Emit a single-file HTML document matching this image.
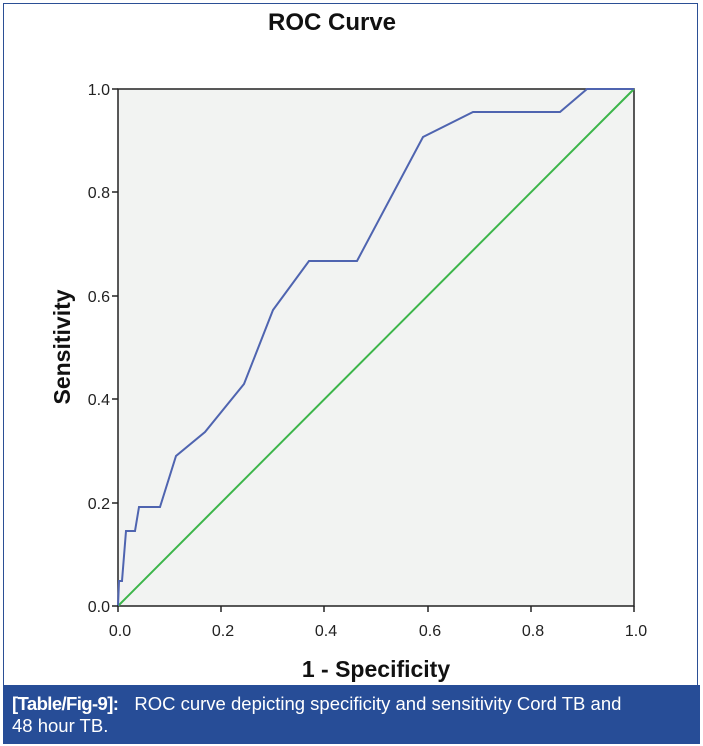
<!DOCTYPE html>
<html><head><style>
body{margin:0;width:703px;height:746px;background:#fff;position:relative;overflow:hidden;font-family:"Liberation Sans",Arial,sans-serif}
.frame{position:absolute;left:3px;top:3px;width:695px;height:740px;border:1px solid #2b4f95;box-sizing:border-box}
.cap{position:absolute;left:3px;top:685px;width:697px;height:59px;background:#274d97;color:#fff;font-size:18.5px;line-height:22px;padding:8px 0 0 9px;box-sizing:border-box}
.cap b{letter-spacing:-0.6px;margin-right:16px}
</style></head><body>
<div class="frame"></div>
<svg width="703" height="746" style="position:absolute;left:0;top:0">
<text x="332" y="30" font-size="24" font-weight="bold" text-anchor="middle" fill="#111">ROC Curve</text>
<rect x="118" y="89" width="516" height="517" fill="#f2f3f2" stroke="#222" stroke-width="1.5"/>
<line x1="118" y1="606" x2="634" y2="89" stroke="#3cb54a" stroke-width="2"/>
<polyline fill="none" stroke="#4f64b0" stroke-width="2" points="118,606 119,581 122,581 126,531 135,531 139,507 160,507 176,456 205,432 244,384 273,310 309,261 357,261 423,137 473,112 560,112 587,89 634,89"/>
<g stroke="#222" stroke-width="1.5">
<line x1="112" y1="89" x2="118" y2="89"/><line x1="112" y1="192" x2="118" y2="192"/><line x1="112" y1="296" x2="118" y2="296"/><line x1="112" y1="399" x2="118" y2="399"/><line x1="112" y1="503" x2="118" y2="503"/><line x1="112" y1="606" x2="118" y2="606"/>
<line x1="118" y1="606" x2="118" y2="612"/><line x1="221" y1="606" x2="221" y2="612"/><line x1="324" y1="606" x2="324" y2="612"/><line x1="428" y1="606" x2="428" y2="612"/><line x1="531" y1="606" x2="531" y2="612"/><line x1="634" y1="606" x2="634" y2="612"/>
</g>
<g font-size="16" fill="#222" text-anchor="end">
<text x="110" y="95">1.0</text><text x="110" y="198">0.8</text><text x="110" y="302">0.6</text><text x="110" y="405">0.4</text><text x="110" y="509">0.2</text><text x="110" y="612">0.0</text>
</g>
<g font-size="16" fill="#222" text-anchor="middle">
<text x="120" y="636">0.0</text><text x="223" y="636">0.2</text><text x="326" y="636">0.4</text><text x="430" y="636">0.6</text><text x="533" y="636">0.8</text><text x="636" y="636">1.0</text>
</g>
<text x="376" y="677" font-size="23" font-weight="bold" text-anchor="middle" fill="#111">1 - Specificity</text>
<text transform="translate(70,347) rotate(-90)" font-size="23" font-weight="bold" text-anchor="middle" fill="#111">Sensitivity</text>
</svg>
<div class="cap"><b>[Table/Fig-9]:</b>ROC curve depicting specificity and sensitivity Cord TB and<br>48 hour TB.</div>
</body></html>
